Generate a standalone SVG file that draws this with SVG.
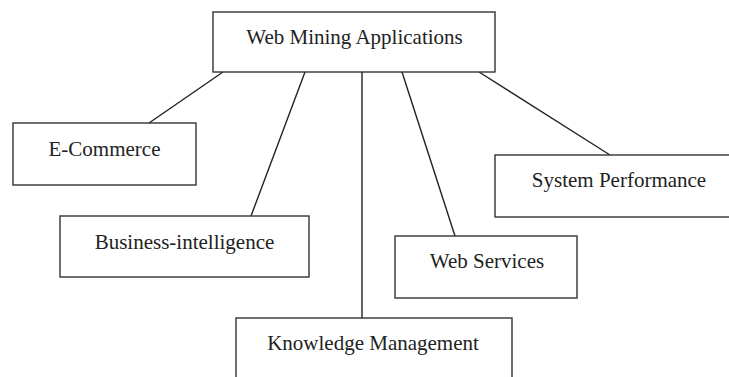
<svg xmlns="http://www.w3.org/2000/svg" width="729" height="377" viewBox="0 0 729 377">
<style>
.box{fill:#fff;stroke:#333;stroke-width:1.4}
.lbl{font-family:"Liberation Serif","Times New Roman",serif;font-size:21px;fill:#222;text-anchor:middle}
.edge{stroke:#222;stroke-width:1.4;fill:none}
</style>
<rect width="729" height="377" fill="#fff"/>
<g id="connectors">
<line class="edge" x1="223" y1="72" x2="149" y2="123"/>
<line class="edge" x1="305" y1="72" x2="251" y2="216"/>
<line class="edge" x1="362" y1="72" x2="362" y2="318"/>
<line class="edge" x1="402" y1="72" x2="455" y2="236"/>
<line class="edge" x1="479" y1="72" x2="610" y2="155"/>
</g>
<g id="root">
<rect class="box" x="213" y="12" width="282" height="60"/>
<text class="lbl" x="354.5" y="44">Web Mining Applications</text>
</g>
<g id="ecommerce">
<rect class="box" x="13" y="123" width="183" height="62"/>
<text class="lbl" x="104.5" y="156">E-Commerce</text>
</g>
<g id="business">
<rect class="box" x="60" y="216" width="249" height="61"/>
<text class="lbl" x="184.5" y="249">Business-intelligence</text>
</g>
<g id="knowledge">
<rect class="box" x="236" y="318" width="276" height="70"/>
<text class="lbl" x="373" y="350">Knowledge Management</text>
</g>
<g id="webservices">
<rect class="box" x="395" y="236" width="182" height="62"/>
<text class="lbl" x="487" y="268">Web Services</text>
</g>
<g id="sysperf">
<rect class="box" x="495" y="155" width="245" height="62"/>
<text class="lbl" x="619" y="187">System Performance</text>
</g>
</svg>
